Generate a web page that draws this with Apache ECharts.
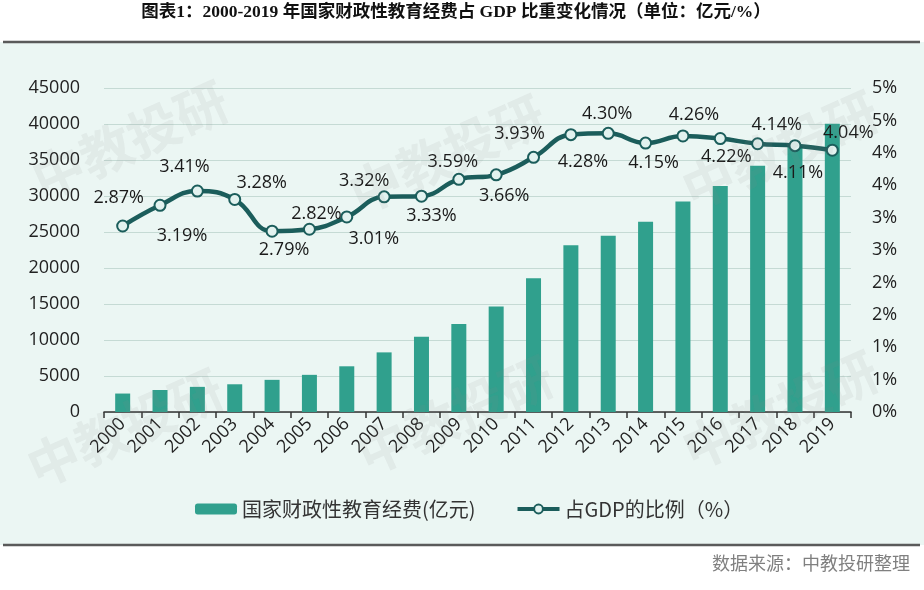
<!DOCTYPE html>
<html>
<head>
<meta charset="utf-8">
<script src="https://cdn.jsdelivr.net/npm/echarts@6/dist/echarts.min.js"></script>
<style>
html,body{margin:0;padding:0;background:#fff;}
#c{width:924px;height:590px;}
</style>
</head>
<body>
<div id="c"></div>
<script>
const years = ['2000','2001','2002','2003','2004','2005','2006','2007','2008','2009','2010','2011','2012','2013','2014','2015','2016','2017','2018','2019'];
const spending = [2563,3057,3491,3851,4466,5161,6348,8280,10450,12231,14670,18587,23148,24488,26421,29221,31396,34208,36996,40047];
const gdpShare = [2.87,3.19,3.41,3.28,2.79,2.82,3.01,3.32,3.33,3.59,3.66,3.93,4.28,4.30,4.15,4.26,4.22,4.14,4.11,4.04];
const seriesNames = ['国家财政性教育经费(亿元)','占GDP的比例（%）'];
const titleText = '图表1：2000-2019 年国家财政性教育经费占 GDP 比重变化情况（单位：亿元/%）';
const sourceText = '数据来源：中教投研整理';
const watermarkText = '中教投研';

// label offsets (style only)
const labelOffsets = [[-4,-28],[22,31],[-13,-24],[27,-17],[12,19],[7,-15],[27,22],[-20,-16],[10,20],[-6,-17],[8,21],[-14,-23],[12,27],[-1,-19],[8,20],[11,-21],[6,18],[19,-19],[3,27],[16,-17]];
const wmPos = [[130,140],[447,154],[780,150],[125,428],[455,415],[780,410]];

const FONT = "'Open Sans','Noto Sans CJK SC',sans-serif";
const CJK = "'Noto Sans CJK SC',sans-serif";
const lineColor = '#1b5d5b';

const chart = echarts.init(document.getElementById('c'), null, {renderer:'canvas'});

const graphics = [
  {type:'rect', z:-10, shape:{x:0,y:42,width:924,height:503}, style:{fill:'#ebf6f3'}},
  {type:'line', z:-9, shape:{x1:3,y1:42,x2:920,y2:42}, style:{stroke:'#5a5a5a',lineWidth:2.5}},
  {type:'line', z:-9, shape:{x1:3,y1:545,x2:920,y2:545}, style:{stroke:'#5a5a5a',lineWidth:2.5}},
  {type:'text', x:456, y:12, style:{text:titleText, fill:'#111', font:"bold 17.5px 'Liberation Serif','Noto Sans CJK SC',serif", align:'center', verticalAlign:'middle'}},
  {type:'text', x:910, y:563, style:{text:sourceText, fill:'#808080', font:"18px "+CJK, align:'right', verticalAlign:'middle'}}
];
wmPos.forEach(p => {
  graphics.push({type:'text', z:100, x:p[0], y:p[1], rotation:0.42, silent:true,
    style:{text:watermarkText, fill:'rgba(140,140,140,0.10)', font:"bold 52px "+CJK, align:'center', verticalAlign:'middle'}});
});

const option = {
  animation:false,
  graphic: graphics,
  grid:{left:104, right:73, top:88, bottom:178, containLabel:false},
  legend:{
    data:seriesNames,
    left:190, top:494,
    itemWidth:42, itemHeight:11, itemGap:40,
    lineStyle:{width:4},
    textStyle:{fontFamily:CJK, fontSize:20, color:'#333'}
  },
  xAxis:{
    type:'category', data:years,
    axisLine:{lineStyle:{color:'#333', width:1.5}},
    axisTick:{show:true, length:6, lineStyle:{color:'#333', width:1.5}},
    axisLabel:{rotate:45, fontSize:18, fontFamily:FONT, color:'#222', margin:9, interval:0},
    splitLine:{show:false}
  },
  yAxis:[
    {type:'value', min:0, max:45000, interval:5000,
     axisLine:{show:false}, axisTick:{show:false},
     axisLabel:{fontSize:18, fontFamily:FONT, color:'#222', margin:24, formatter:v => String(v)},
     splitLine:{lineStyle:{color:'#c5dad4', width:1.2}}},
    {type:'value', min:0, max:5, interval:0.5, position:'right',
     axisLine:{show:false}, axisTick:{show:false},
     axisLabel:{fontSize:18, fontFamily:FONT, color:'#222', margin:21, formatter:v => Math.round(v)+'%'},
     splitLine:{show:false}}
  ],
  series:[
    {name:seriesNames[0], type:'bar', data:spending, barWidth:15, yAxisIndex:0,
     itemStyle:{color:'#30a08d'}},
    {name:seriesNames[1], type:'line', yAxisIndex:1, smooth:0.45, z:5,
     data:gdpShare.map((v,i)=>({value:v, label:{offset:labelOffsets[i]}})),
     symbol:'circle', symbolSize:11,
     lineStyle:{color:lineColor, width:4.5},
     itemStyle:{color:'#e2f2ef', borderColor:lineColor, borderWidth:2},
     label:{show:true, position:'inside', align:'center', verticalAlign:'middle',
       formatter:p => p.value.toFixed(2)+'%', fontSize:18, fontFamily:FONT, color:'#1a1a1a'}
    }
  ]
};
chart.setOption(option);
</script>
</body>
</html>
